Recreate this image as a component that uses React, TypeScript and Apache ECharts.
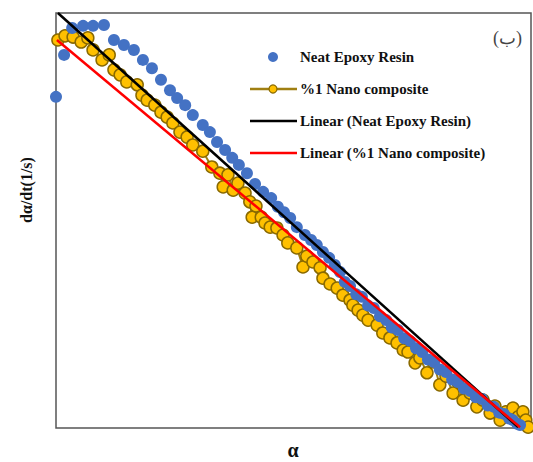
import React, { useEffect, useRef } from "react";
import * as echarts from "echarts";

// α (conversion) and normalised dα/dt values
const neatAlpha = [0.0, 0.017, 0.034, 0.057, 0.078, 0.101, 0.122, 0.143, 0.164, 0.183, 0.202, 0.221, 0.24, 0.255, 0.272, 0.288, 0.309, 0.324, 0.339, 0.356, 0.371, 0.385, 0.402, 0.419, 0.436, 0.453, 0.467, 0.48, 0.493, 0.507, 0.524, 0.537, 0.549, 0.562, 0.575, 0.587, 0.598, 0.608, 0.619, 0.632, 0.644, 0.657, 0.669, 0.682, 0.695, 0.707, 0.72, 0.733, 0.745, 0.758, 0.771, 0.783, 0.796, 0.808, 0.821, 0.834, 0.846, 0.859, 0.872, 0.884, 0.897, 0.909, 0.922, 0.933, 0.943, 0.954, 0.962, 0.971, 0.977];
const neatRate = [0.798, 0.899, 0.964, 0.969, 0.969, 0.971, 0.935, 0.923, 0.911, 0.887, 0.867, 0.839, 0.814, 0.795, 0.778, 0.754, 0.73, 0.713, 0.689, 0.67, 0.651, 0.634, 0.614, 0.588, 0.569, 0.554, 0.533, 0.52, 0.506, 0.484, 0.465, 0.453, 0.441, 0.424, 0.41, 0.393, 0.376, 0.352, 0.342, 0.322, 0.316, 0.295, 0.289, 0.269, 0.26, 0.242, 0.236, 0.216, 0.21, 0.192, 0.183, 0.165, 0.159, 0.141, 0.135, 0.117, 0.111, 0.095, 0.089, 0.074, 0.07, 0.054, 0.051, 0.037, 0.034, 0.023, 0.019, 0.01, 0.007];

const nanoAlpha = [0.004, 0.019, 0.036, 0.053, 0.067, 0.078, 0.097, 0.112, 0.122, 0.135, 0.149, 0.171, 0.181, 0.192, 0.208, 0.221, 0.234, 0.246, 0.261, 0.276, 0.288, 0.309, 0.328, 0.345, 0.352, 0.362, 0.373, 0.383, 0.398, 0.408, 0.413, 0.421, 0.432, 0.44, 0.451, 0.465, 0.478, 0.488, 0.507, 0.52, 0.528, 0.541, 0.556, 0.562, 0.577, 0.592, 0.604, 0.619, 0.625, 0.636, 0.646, 0.657, 0.676, 0.688, 0.703, 0.718, 0.731, 0.741, 0.756, 0.766, 0.781, 0.794, 0.808, 0.821, 0.836, 0.846, 0.857, 0.872, 0.886, 0.899, 0.914, 0.924, 0.935, 0.947, 0.962, 0.973, 0.983, 0.989, 0.994];
const nanoRate = [0.935, 0.945, 0.942, 0.93, 0.94, 0.911, 0.887, 0.899, 0.863, 0.851, 0.834, 0.827, 0.802, 0.79, 0.778, 0.761, 0.749, 0.735, 0.713, 0.701, 0.682, 0.667, 0.629, 0.614, 0.581, 0.61, 0.573, 0.59, 0.566, 0.545, 0.508, 0.535, 0.508, 0.494, 0.484, 0.482, 0.465, 0.446, 0.434, 0.388, 0.414, 0.4, 0.386, 0.361, 0.347, 0.337, 0.32, 0.308, 0.296, 0.284, 0.272, 0.26, 0.248, 0.229, 0.217, 0.205, 0.188, 0.183, 0.157, 0.169, 0.133, 0.159, 0.104, 0.125, 0.084, 0.111, 0.067, 0.084, 0.051, 0.067, 0.036, 0.053, 0.019, 0.039, 0.048, 0.027, 0.039, 0.019, 0.002];

// linear trend lines (end points)
const neatTrendAlpha = [0.004, 0.973];
const neatTrendRate = [1.0, 0.002];
const nanoTrendAlpha = [0.002, 0.977];
const nanoTrendRate = [0.935, 0.002];

const legendLabels = [
  "Neat Epoxy Resin",
  "%1 Nano composite",
  "Linear (Neat Epoxy Resin)",
  "Linear (%1 Nano composite)",
];
const panelLabel = "(ب)";
const xName = "α";
const yName = "dα/dt(1/s)";

const zip = (a: number[], b: number[]) => a.map((v, i) => [v, b[i]]);

export default function App() {
  const ref = useRef<HTMLDivElement>(null);
  useEffect(() => {
    if (!ref.current) return;
    const chart = echarts.init(ref.current, null, { renderer: "svg" });
    const font = "'Liberation Serif', 'Times New Roman', serif";
    const blue = "#4472C4";
    const gold = "#FFC000";
    const goldLine = "#A07F12";
    const legText = (y: number, t: string) => ({
      type: "text",
      x: 300,
      y,
      style: { text: t, font: `bold 15px ${font}`, fill: "#111", textVerticalAlign: "middle" },
      z: 100,
    });
    chart.setOption({
      animation: false,
      backgroundColor: "#fff",
      grid: { left: 56, top: 13, width: 475, height: 415, show: true, borderColor: "#555", borderWidth: 1.5, backgroundColor: "transparent" },
      xAxis: { type: "value", min: 0, max: 1, axisLine: { show: false }, axisTick: { show: false }, axisLabel: { show: false }, splitLine: { show: false } },
      yAxis: { type: "value", min: 0, max: 1, axisLine: { show: false }, axisTick: { show: false }, axisLabel: { show: false }, splitLine: { show: false } },
      series: [
        {
          name: legendLabels[1],
          type: "line",
          data: zip(nanoAlpha, nanoRate),
          symbol: "circle",
          symbolSize: 12,
          lineStyle: { color: goldLine, width: 2 },
          itemStyle: { color: gold, borderColor: "#8A6A00", borderWidth: 1.5 },
          z: 2,
        },
        {
          name: legendLabels[0],
          type: "scatter",
          data: zip(neatAlpha, neatRate),
          symbolSize: 12,
          itemStyle: { color: blue, opacity: 1 },
          z: 3,
        },
        {
          name: legendLabels[2],
          type: "line",
          data: zip(neatTrendAlpha, neatTrendRate),
          symbol: "none",
          lineStyle: { color: "#000", width: 2.5 },
          z: 4,
        },
        {
          name: legendLabels[3],
          type: "line",
          data: zip(nanoTrendAlpha, nanoTrendRate),
          symbol: "none",
          lineStyle: { color: "#FF0000", width: 2.5 },
          z: 5,
        },
      ],
      graphic: [
        { type: "circle", shape: { cx: 273, cy: 57, r: 5 }, style: { fill: blue }, z: 100 },
        legText(57, legendLabels[0]),
        { type: "line", shape: { x1: 250, y1: 89, x2: 297, y2: 89 }, style: { stroke: goldLine, lineWidth: 2.5 }, z: 100 },
        { type: "circle", shape: { cx: 273, cy: 89, r: 4 }, style: { fill: gold, stroke: "#8A6A00", lineWidth: 1.2 }, z: 101 },
        legText(89, legendLabels[1]),
        { type: "line", shape: { x1: 250, y1: 121, x2: 297, y2: 121 }, style: { stroke: "#000", lineWidth: 2.5 }, z: 100 },
        legText(121, legendLabels[2]),
        { type: "line", shape: { x1: 250, y1: 153, x2: 297, y2: 153 }, style: { stroke: "#FF0000", lineWidth: 2.5 }, z: 100 },
        legText(153, legendLabels[3]),
        {
          type: "text",
          x: 522,
          y: 38,
          style: { text: panelLabel, font: `18px ${font}`, fill: "#444", textAlign: "right", textVerticalAlign: "middle" },
          z: 100,
        },
        {
          type: "text",
          x: 293,
          y: 450,
          style: { text: xName, font: `bold 20px ${font}`, fill: "#111", textAlign: "center", textVerticalAlign: "middle" },
          z: 100,
        },
        {
          type: "text",
          x: 26,
          y: 190,
          rotation: Math.PI / 2,
          style: { text: yName, font: `bold 16px ${font}`, fill: "#111", textAlign: "center", textVerticalAlign: "middle" },
          z: 100,
        },
      ],
    });
    return () => chart.dispose();
  }, []);
  return <div ref={ref} style={{ position: "fixed", left: 0, top: 0, width: 533, height: 462 }} />;
}
